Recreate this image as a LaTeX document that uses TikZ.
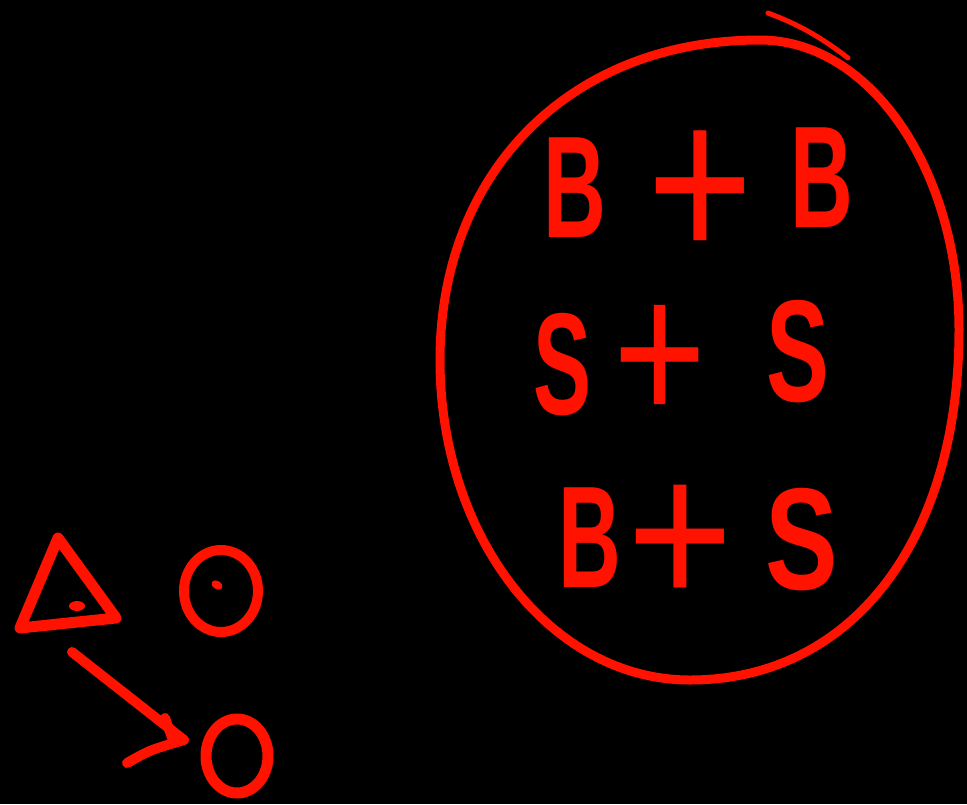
\documentclass[tikz,border=0pt]{standalone}
\usepackage{fontspec}
\setmainfont{Liberation Sans}
\usetikzlibrary{shapes.geometric}
\definecolor{ink}{RGB}{255,18,0}
\begin{document}
\begin{tikzpicture}[x=1pt,y=-1pt,
  pen/.style={draw=ink, line width=10pt, line cap=round, line join=round},
  letter/.style={text=ink, inner sep=0pt, font=\fontsize{145}{145}\selectfont\bfseries},
  plus/.style={text=ink, inner sep=0pt, font=\fontsize{145}{145}\selectfont},
  dotmark/.style={fill=ink}]
\fill[black] (0,0) rectangle (967,804);
\useasboundingbox (0,0) rectangle (967,804);
% big hand-drawn loop
\coordinate (et) at (760,40);
\coordinate (er) at (959,330);
\coordinate (eb) at (690,680);
\coordinate (el) at (440,360);
\draw[pen, line width=9pt] (et) .. controls (870,40) and (959,170) .. (er)
  .. controls (959,540) and (852,680) .. (eb)
  .. controls (551,680) and (440,537) .. (el)
  .. controls (440,172) and (570,40) .. cycle;
\draw[draw=ink, line width=5pt, line cap=round] (768,13) .. controls (800,25) and (822,38) .. (848,58);
% text rows
\node[letter] (b1) at (575,188) {\scalebox{0.6}[1]{B}};
\node[plus] (p1) at (700,196) {\scalebox{1.25}[1.55]{+}};
\node[letter] (b2) at (822,178) {\scalebox{0.6}[1]{B}};
\node[letter] (s1) at (563,365) {\scalebox{0.6}[1]{S}};
\node[plus] (p2) at (660,364) {\scalebox{1.1}[1.4]{+}};
\node[letter] (s2) at (798,352) {\scalebox{0.65}[1]{S}};
\node[letter] (b3) at (590,538) {\scalebox{0.6}[1]{B}};
\node[plus] (p3) at (680,546) {\scalebox{1.25}[1.45]{+}};
\node[letter] (s3) at (802,540) {\scalebox{0.75}[1]{S}};
% triangle with dot
\draw[pen, line width=11pt] (58,538) -- (20,628) -- (116,618) -- cycle;
\fill[dotmark] (77,606) ellipse [x radius=8, y radius=5];
% circle with dot
\draw[pen, line width=10pt] (221,591) ellipse [x radius=37, y radius=41];
\fill[dotmark, rotate around={-30:(217,585)}] (217,585) ellipse [x radius=6, y radius=4];
% arrow
\coordinate (a0) at (72,652);
\coordinate (a1) at (184,740);
\draw[pen] (a0) -- (a1);
\draw[pen] (165,718) -- (174,743);
\draw[pen] (127,763) .. controls (150,750) .. (a1);
% O
\draw[pen, line width=11pt] (237,756) ellipse [x radius=31, y radius=37];
\end{tikzpicture}
\end{document}
